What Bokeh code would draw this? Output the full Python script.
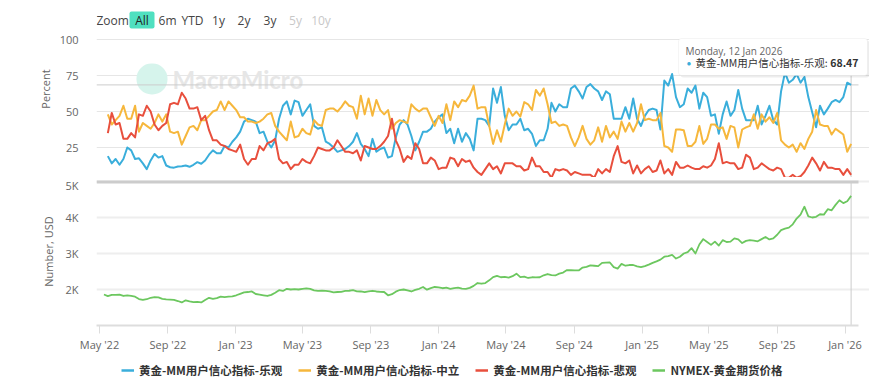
import pandas as pd
from bokeh.plotting import figure
from bokeh.layouts import column
from bokeh.models import (Range1d, FixedTicker, MonthsTicker, DatetimeTickFormatter,
                          Label, BoxAnnotation, Legend, LegendItem, ColumnDataSource)
from bokeh.embed import file_html
from bokeh.resources import INLINE

# ---------------- data ----------------
sentiment_start = "2022-05-16"   # weekly, Mondays
gold_start = "2022-05-09"        # weekly, Mondays

optimistic = [
    19, 14, 17, 13, 17, 25, 23, 17, 17.5, 14,
    10, 16, 20.5, 18, 19, 12.5, 11.3, 11, 11.8, 12,
    12.5, 11.6, 13, 14.8, 13.7, 16, 20, 23, 21, 21,
    26, 25, 29, 32, 36, 43, 45, 44, 43, 35,
    36, 29, 25, 30, 45, 54, 57, 48, 57.6, 56.5,
    47, 51, 55, 40, 38, 39, 29, 27.5, 25, 22,
    23, 24, 26, 29, 35, 27.5, 24, 19, 31, 22,
    24, 25, 18, 19, 32, 41, 44, 41, 33, 23,
    29, 36, 36, 38, 43, 46, 48, 35, 38, 28,
    38, 29, 35, 31, 23, 45, 45, 44, 40, 66,
    56, 67, 47, 37, 41, 41, 45, 37, 38, 34.5,
    26, 30, 30, 38, 56, 50, 55, 53, 53, 66,
    68, 64, 59, 67, 69, 66, 64, 58, 64, 62,
    45, 45, 45, 53, 45, 59, 45, 40, 47, 51,
    52, 51, 37.5, 71.5, 68, 76, 60, 53, 55, 66,
    63, 68, 52, 63, 60, 47, 48, 34.5, 48, 57,
    47, 51, 65, 52, 44, 44, 44, 54, 41, 47,
    54, 44, 41, 64, 77, 70, 72, 76, 70, 74,
    60, 49.5, 39, 54, 48, 52, 56.5, 58, 56.5, 60,
    70, 68.47,
]
neutral = [
    48, 41, 44, 47, 54, 45, 45, 54, 36, 42,
    40, 38, 42, 48, 43, 48, 36, 35, 36, 27,
    33, 39, 40, 37, 44, 44, 47, 50, 51, 57,
    51, 57, 54, 51, 46, 46, 43, 43, 42, 43,
    45, 48, 49, 40, 36, 33, 30, 43, 32, 33,
    38, 35, 34, 44, 41, 40, 51, 52, 52, 50,
    53, 57, 54, 53, 45, 61, 48, 59, 47, 58,
    51, 48, 51, 38, 42, 44, 43, 42, 55, 52,
    50, 52, 52, 46, 40, 47, 42, 55, 44, 57,
    53, 58, 57, 61, 68, 52, 53, 53, 40, 27.5,
    37, 29, 41, 52, 47, 50, 46.5, 56.5, 55, 51,
    65, 61, 66, 55, 42, 43, 40, 41, 40, 32,
    26, 32, 40, 31, 27, 30, 39, 29, 40, 32,
    36, 31, 43, 36, 42, 36, 42, 55, 44, 45,
    44, 44, 49, 26, 25, 22, 37.5, 37.5, 37, 26,
    26, 29, 40, 27.5, 31, 41, 41, 38, 39, 31,
    40, 39, 25, 37.5, 39, 40, 48, 38, 48, 43,
    46, 42, 49, 30, 27, 25, 27, 22, 28, 24,
    31, 36, 51, 41, 40, 40, 34, 38, 36, 34,
    22, 27.5,
]
pessimistic = [
    35, 49, 41, 42, 31, 31, 35, 32, 48, 47,
    54, 50, 41, 37, 40, 42, 55, 56, 55, 63,
    59, 52, 52, 53, 44, 47, 37, 30, 30, 27,
    26, 24, 23, 22, 27, 17, 13, 17, 17, 26,
    23, 28, 29, 31, 17, 14, 15, 10, 13, 13,
    17, 15, 14, 19, 25, 24, 23, 23, 25, 30,
    26, 22, 22, 21, 23, 16, 26, 25, 24, 24,
    26, 29, 33, 45, 30, 24, 15, 19, 17, 28,
    24, 14, 14, 18, 16, 10, 11, 11, 18, 17,
    12, 17, 15, 16, 11, 8, 6, 10, 14, 10,
    12, 7, 14, 14, 14, 12, 12, 9, 10, 18,
    12, 12, 8, 8, 4, 10, 9, 10, 9, 6,
    8, 7, 6, 6, 6, 4, 10, 7, 10, 8,
    19, 26, 15, 14, 16, 7, 12.5, 7, 10, 12,
    8, 9, 16, 7, 10, 6, 15, 11, 11, 12.5,
    11, 10, 10, 12, 11, 12.5, 17, 28, 14, 15,
    14, 14, 10, 11, 20, 18, 10, 11, 14, 12,
    10, 9, 11, 10, 4, 4, 6, 4, 5, 8,
    12.5, 18, 14, 9, 15, 11, 11, 10, 10, 6,
    10, 6,
]
gold = [
    # 2022
    1860, 1815, 1850, 1850, 1855, 1820, 1835, 1820, 1800, 1735, 1710, 1730,
    1770, 1790, 1780, 1740, 1725, 1720, 1710, 1680, 1640, 1700, 1670, 1650,
    1655, 1640, 1710, 1770, 1740, 1760, 1800, 1790, 1800, 1810,
    # 2023
    1840, 1880, 1920, 1930, 1945, 1875, 1860, 1840, 1820, 1850, 1910, 1980,
    1960, 2020, 2000, 2010, 2000, 2020, 2030, 2015, 1975, 1960, 1970, 1960,
    1950, 1920, 1930, 1935, 1960, 1965, 1980, 1950, 1945, 1925, 1945, 1965,
    1945, 1935, 1930, 1840, 1870, 1940, 1985, 2000, 1975, 1945, 1990, 2020,
    2070, 1995, 2040, 2070,
    # 2024
    2060, 2035, 2050, 2020, 2040, 2050, 2025, 2020, 2045, 2100, 2180, 2160,
    2180, 2255, 2345, 2380, 2340, 2350, 2330, 2370, 2440, 2345, 2360, 2320,
    2340, 2335, 2340, 2395, 2430, 2400, 2390, 2440, 2470, 2540, 2535, 2530,
    2530, 2610, 2630, 2670, 2660, 2650, 2740, 2745, 2750, 2620, 2580, 2710,
    2660, 2680, 2680, 2640, 2620,
    # 2025
    2650, 2690, 2740, 2780, 2830, 2910, 2930, 2960, 2860, 2910, 3000, 3040,
    3150, 3000, 3250, 3400, 3320, 3240, 3330, 3220, 3370, 3320, 3330, 3420,
    3390, 3290, 3350, 3370, 3360, 3340, 3400, 3460, 3390, 3420, 3520, 3650,
    3690, 3720, 3810, 3970, 4080, 4300, 4030, 4000, 4020, 4090, 4080, 4230,
    4200, 4350, 4480, 4400,
    # 2026
    4450, 4600,
]

names = ["黄金-MM用户信心指标-乐观", "黄金-MM用户信心指标-中立",
         "黄金-MM用户信心指标-悲观", "NYMEX-黄金期货价格"]
colors = ["#3aaedb", "#f6b73c", "#e84f3d", "#6cc75f"]

pct_ticks = [25, 50, 75, 100]
gold_ticks = [2000, 3000, 4000, 5000]
gold_tick_labels = ["2K", "3K", "4K", "5K"]
x_tick_months = [0, 4, 8]          # Jan, May, Sep (0-based)
zoom_buttons = ["6m", "YTD", "1y", "2y", "3y", "5y", "10y"]
zoom_disabled = ["5y", "10y"]

# ---------------- layout constants (page px; the page has no margin) ----------------
W = 869
FL, FR = 96, 869          # frame left / right
PLOT_R = 858              # right end of grid lines / axis line
SPLIT = 177               # boundary between the two figures
TB = 183                  # top pane: value 0 here, 1.44 px per unit
PX_PER_UNIT = 1.44
BOT_Y0 = 325              # bottom pane: 1K here, 36 px per 1K
PX_PER_K = 36.0
X0 = pd.Timestamp("2022-04-25 14:30")
X1 = pd.Timestamp("2026-02-14 01:40")
x0_ms = X0.value / 1e6
x1_ms = X1.value / 1e6


def px_x(px):
    return x0_ms + (px - FL) / (FR - FL) * (x1_ms - x0_ms)


def py_top(py):
    return (TB - py) / PX_PER_UNIT


def py_bot(py):
    return 1000 + (BOT_Y0 - py) / PX_PER_K * 1000


LATIN = "Open Sans"
CJK = "Noto Sans CJK SC"
xr = Range1d(X0, X1)
grid_bounds = (x0_ms, px_x(PLOT_R))

# ---------------- top pane ----------------
top = figure(width=W, height=SPLIT, x_range=xr, y_range=Range1d(py_top(SPLIT), py_top(0)),
             x_axis_type="datetime", x_axis_location=None,
             output_backend="svg", toolbar_location=None,
             min_border_left=FL, min_border_right=0, min_border_top=0, min_border_bottom=0)
top.outline_line_color = None
top.border_fill_color = "white"
top.xgrid.visible = False
top.yaxis.ticker = FixedTicker(ticks=pct_ticks)
top.yaxis.bounds = (0, 100)
top.ygrid.ticker = FixedTicker(ticks=pct_ticks)
top.ygrid.bounds = grid_bounds
top.ygrid.grid_line_color = "#e6e6e6"
top.yaxis.axis_line_color = None
top.yaxis.major_tick_line_color = None
top.yaxis.minor_tick_line_color = None
top.yaxis.major_label_standoff = 12
top.yaxis.major_label_text_font = LATIN
top.yaxis.major_label_text_font_size = "11px"
top.yaxis.major_label_text_color = "#666666"
top.yaxis.axis_label = "Percent"
top.yaxis.axis_label_standoff = 4
top.yaxis.axis_label_text_font = LATIN
top.yaxis.axis_label_text_font_size = "11px"
top.yaxis.axis_label_text_font_style = "normal"
top.yaxis.axis_label_text_color = "#666666"

# watermark
top.add_layout(BoxAnnotation(left=px_x(136), right=px_x(167), top=py_top(63), bottom=py_top(94),
                             fill_color="#d6f4ec", fill_alpha=1, line_color=None,
                             border_radius=15, level="underlay"))
top.add_layout(Label(x=px_x(172), y=py_top(79), text="MacroMicro", text_font="Lato",
                     text_font_style="bold", text_font_size="24px", text_color="#e6e6e6",
                     text_baseline="middle", level="underlay"))

sent_dates = pd.date_range(sentiment_start, periods=len(optimistic), freq="7D")
last_ms = sent_dates[-1].value / 1e6

# crosshair (behind the lines)
top.segment(x0=[x0_ms], y0=[optimistic[-1]], x1=[px_x(PLOT_R)], y1=[optimistic[-1]],
            line_color="#cccccc", line_width=1)
top.segment(x0=[last_ms], y0=[0], x1=[last_ms], y1=[100], line_color="#cccccc", line_width=1)

sources = []
for vals in [optimistic, neutral, pessimistic]:
    d = pd.date_range(sentiment_start, periods=len(vals), freq="7D")
    sources.append(ColumnDataSource(dict(x=d, y=vals)))
for src, col in zip(sources, colors[:3]):
    top.line("x", "y", source=src, line_color=col, line_width=2, line_join="round")

# zoom buttons
top.add_layout(Label(x=px_x(96), y=py_top(19.5), text="Zoom", text_font=LATIN,
                     text_font_size="12px", text_color="#444444", text_baseline="middle"))
top.add_layout(BoxAnnotation(left=px_x(129), right=px_x(154), top=py_top(11), bottom=py_top(28),
                             fill_color="#50e0c0", fill_alpha=1, line_color=None, border_radius=2))
top.add_layout(Label(x=px_x(141.5), y=py_top(19.5), text="All", text_font=LATIN,
                     text_font_size="12px", text_color="#222222", text_baseline="middle",
                     text_align="center"))
btn_x = [167, 192, 218, 243.5, 269.5, 295, 320.5]
for lab, bx in zip(zoom_buttons, btn_x):
    top.add_layout(Label(x=px_x(bx), y=py_top(19.5), text=lab, text_font=LATIN,
                         text_font_size="12px",
                         text_color="#c8c8c8" if lab in zoom_disabled else "#444444",
                         text_baseline="middle", text_align="center"))

# tooltip
top.add_layout(BoxAnnotation(left=px_x(680), right=px_x(869), top=py_top(40), bottom=py_top(77),
                             fill_color="black", fill_alpha=0.07, line_color=None, border_radius=3))
top.add_layout(BoxAnnotation(left=px_x(678), right=px_x(867), top=py_top(38), bottom=py_top(75),
                             fill_color="white", fill_alpha=1, line_color="#dddddd",
                             line_width=1, border_radius=3))
top.add_layout(Label(x=px_x(685), y=py_top(50), text=sent_dates[-1].strftime("%A, %d %b %Y"),
                     text_font=LATIN, text_font_size="10px", text_color="#666666",
                     text_baseline="middle"))
top.add_layout(Label(x=px_x(688.5), y=py_top(62), text="●", text_font=LATIN,
                     text_font_size="8px", text_color=colors[0], text_baseline="middle",
                     text_align="center"))
top.add_layout(Label(x=px_x(695), y=py_top(62), text=names[0] + ":", text_font=CJK,
                     text_font_size="10.5px", text_color="#333333", text_baseline="middle"))
top.add_layout(Label(x=px_x(858), y=py_top(62), text=f"{optimistic[-1]:.2f}", text_font=CJK,
                     text_font_size="10.5px", text_font_style="bold", text_color="#333333",
                     text_baseline="middle", text_align="right"))

# ---------------- bottom pane ----------------
BOT_BELOW = 34
bot = figure(width=W, height=(BOT_Y0 - SPLIT) + BOT_BELOW, x_range=xr,
             y_range=Range1d(1000, py_bot(SPLIT)),
             x_axis_type="datetime", output_backend="svg", toolbar_location=None,
             min_border_left=FL, min_border_right=0, min_border_top=0,
             min_border_bottom=BOT_BELOW)
bot.outline_line_color = None
bot.border_fill_color = "white"
bot.xgrid.visible = False
bot.yaxis.ticker = FixedTicker(ticks=gold_ticks)
bot.yaxis.bounds = (1000, 5000)
bot.ygrid.ticker = FixedTicker(ticks=gold_ticks)
bot.ygrid.bounds = grid_bounds
bot.ygrid.grid_line_color = "#eeeeee"
bot.ygrid.grid_line_width = 2
bot.yaxis.major_label_overrides = dict(zip(gold_ticks, gold_tick_labels))
bot.yaxis.axis_line_color = None
bot.yaxis.major_tick_line_color = None
bot.yaxis.minor_tick_line_color = None
bot.yaxis.major_label_standoff = 12
bot.yaxis.major_label_text_font = LATIN
bot.yaxis.major_label_text_font_size = "11px"
bot.yaxis.major_label_text_color = "#666666"
bot.yaxis.axis_label = "Number, USD"
bot.yaxis.axis_label_standoff = 6
bot.yaxis.axis_label_text_font = LATIN
bot.yaxis.axis_label_text_font_size = "11px"
bot.yaxis.axis_label_text_font_style = "normal"
bot.yaxis.axis_label_text_color = "#666666"

bot.xaxis.ticker = MonthsTicker(months=x_tick_months)
bot.xaxis.formatter = DatetimeTickFormatter(months="%b '%y", years="%b '%y", days="%b '%y")
bot.xaxis.bounds = grid_bounds
bot.xaxis.axis_line_color = "#dddddd"
bot.xaxis.axis_line_width = 2
bot.xaxis.major_tick_line_color = "#dddddd"
bot.xaxis.major_tick_out = 8
bot.xaxis.major_tick_in = 0
bot.xaxis.minor_tick_line_color = None
bot.xaxis.major_label_standoff = 3
bot.xaxis.major_label_text_font = LATIN
bot.xaxis.major_label_text_font_size = "11px"
bot.xaxis.major_label_text_color = "#666666"

# pane separator
bot.add_layout(BoxAnnotation(left=x0_ms, right=px_x(PLOT_R), top=py_bot(180), bottom=py_bot(183),
                             fill_color="#cccccc", fill_alpha=1, line_color=None))

gold_dates = pd.date_range(gold_start, periods=len(gold), freq="7D")
gsrc = ColumnDataSource(dict(x=gold_dates, y=gold))
bot.segment(x0=[last_ms], y0=[1000], x1=[last_ms], y1=[5000], line_color="#cccccc", line_width=1)
rg = bot.line("x", "y", source=gsrc, line_color=colors[3], line_width=1.8, line_join="round")

# ---------------- legend strip ----------------
leg = figure(width=W, height=387 - (BOT_Y0 + BOT_BELOW), x_range=Range1d(0, 1),
             y_range=Range1d(0, 1),
             x_axis_location=None, y_axis_location=None, output_backend="svg",
             toolbar_location=None, min_border_left=0, min_border_right=0,
             min_border_top=0, min_border_bottom=0)
leg.outline_line_color = None
leg.xgrid.visible = False
leg.ygrid.visible = False
# legend entries reuse the series data (outside this strip's ranges, so nothing is drawn)
proxies = [leg.line("x", "y", source=s, line_color=c, line_width=2.5)
           for s, c in zip(sources + [gsrc], colors)]
legend = Legend(items=[LegendItem(label=n, renderers=[r]) for n, r in zip(names, proxies)],
                orientation="horizontal", location=(25, 9))
legend.label_text_font = CJK
legend.label_text_font_size = "11.5px"
legend.label_text_font_style = "bold"
legend.label_text_color = "#333333"
legend.glyph_width = 13
legend.glyph_height = 14
legend.label_standoff = 5
legend.spacing = 16
legend.padding = 0
legend.margin = 0
legend.border_line_color = None
legend.background_fill_alpha = 0
leg.add_layout(legend, "center")

layout = column(top, bot, leg)
open("out.html", "w").write(file_html(layout, INLINE))
